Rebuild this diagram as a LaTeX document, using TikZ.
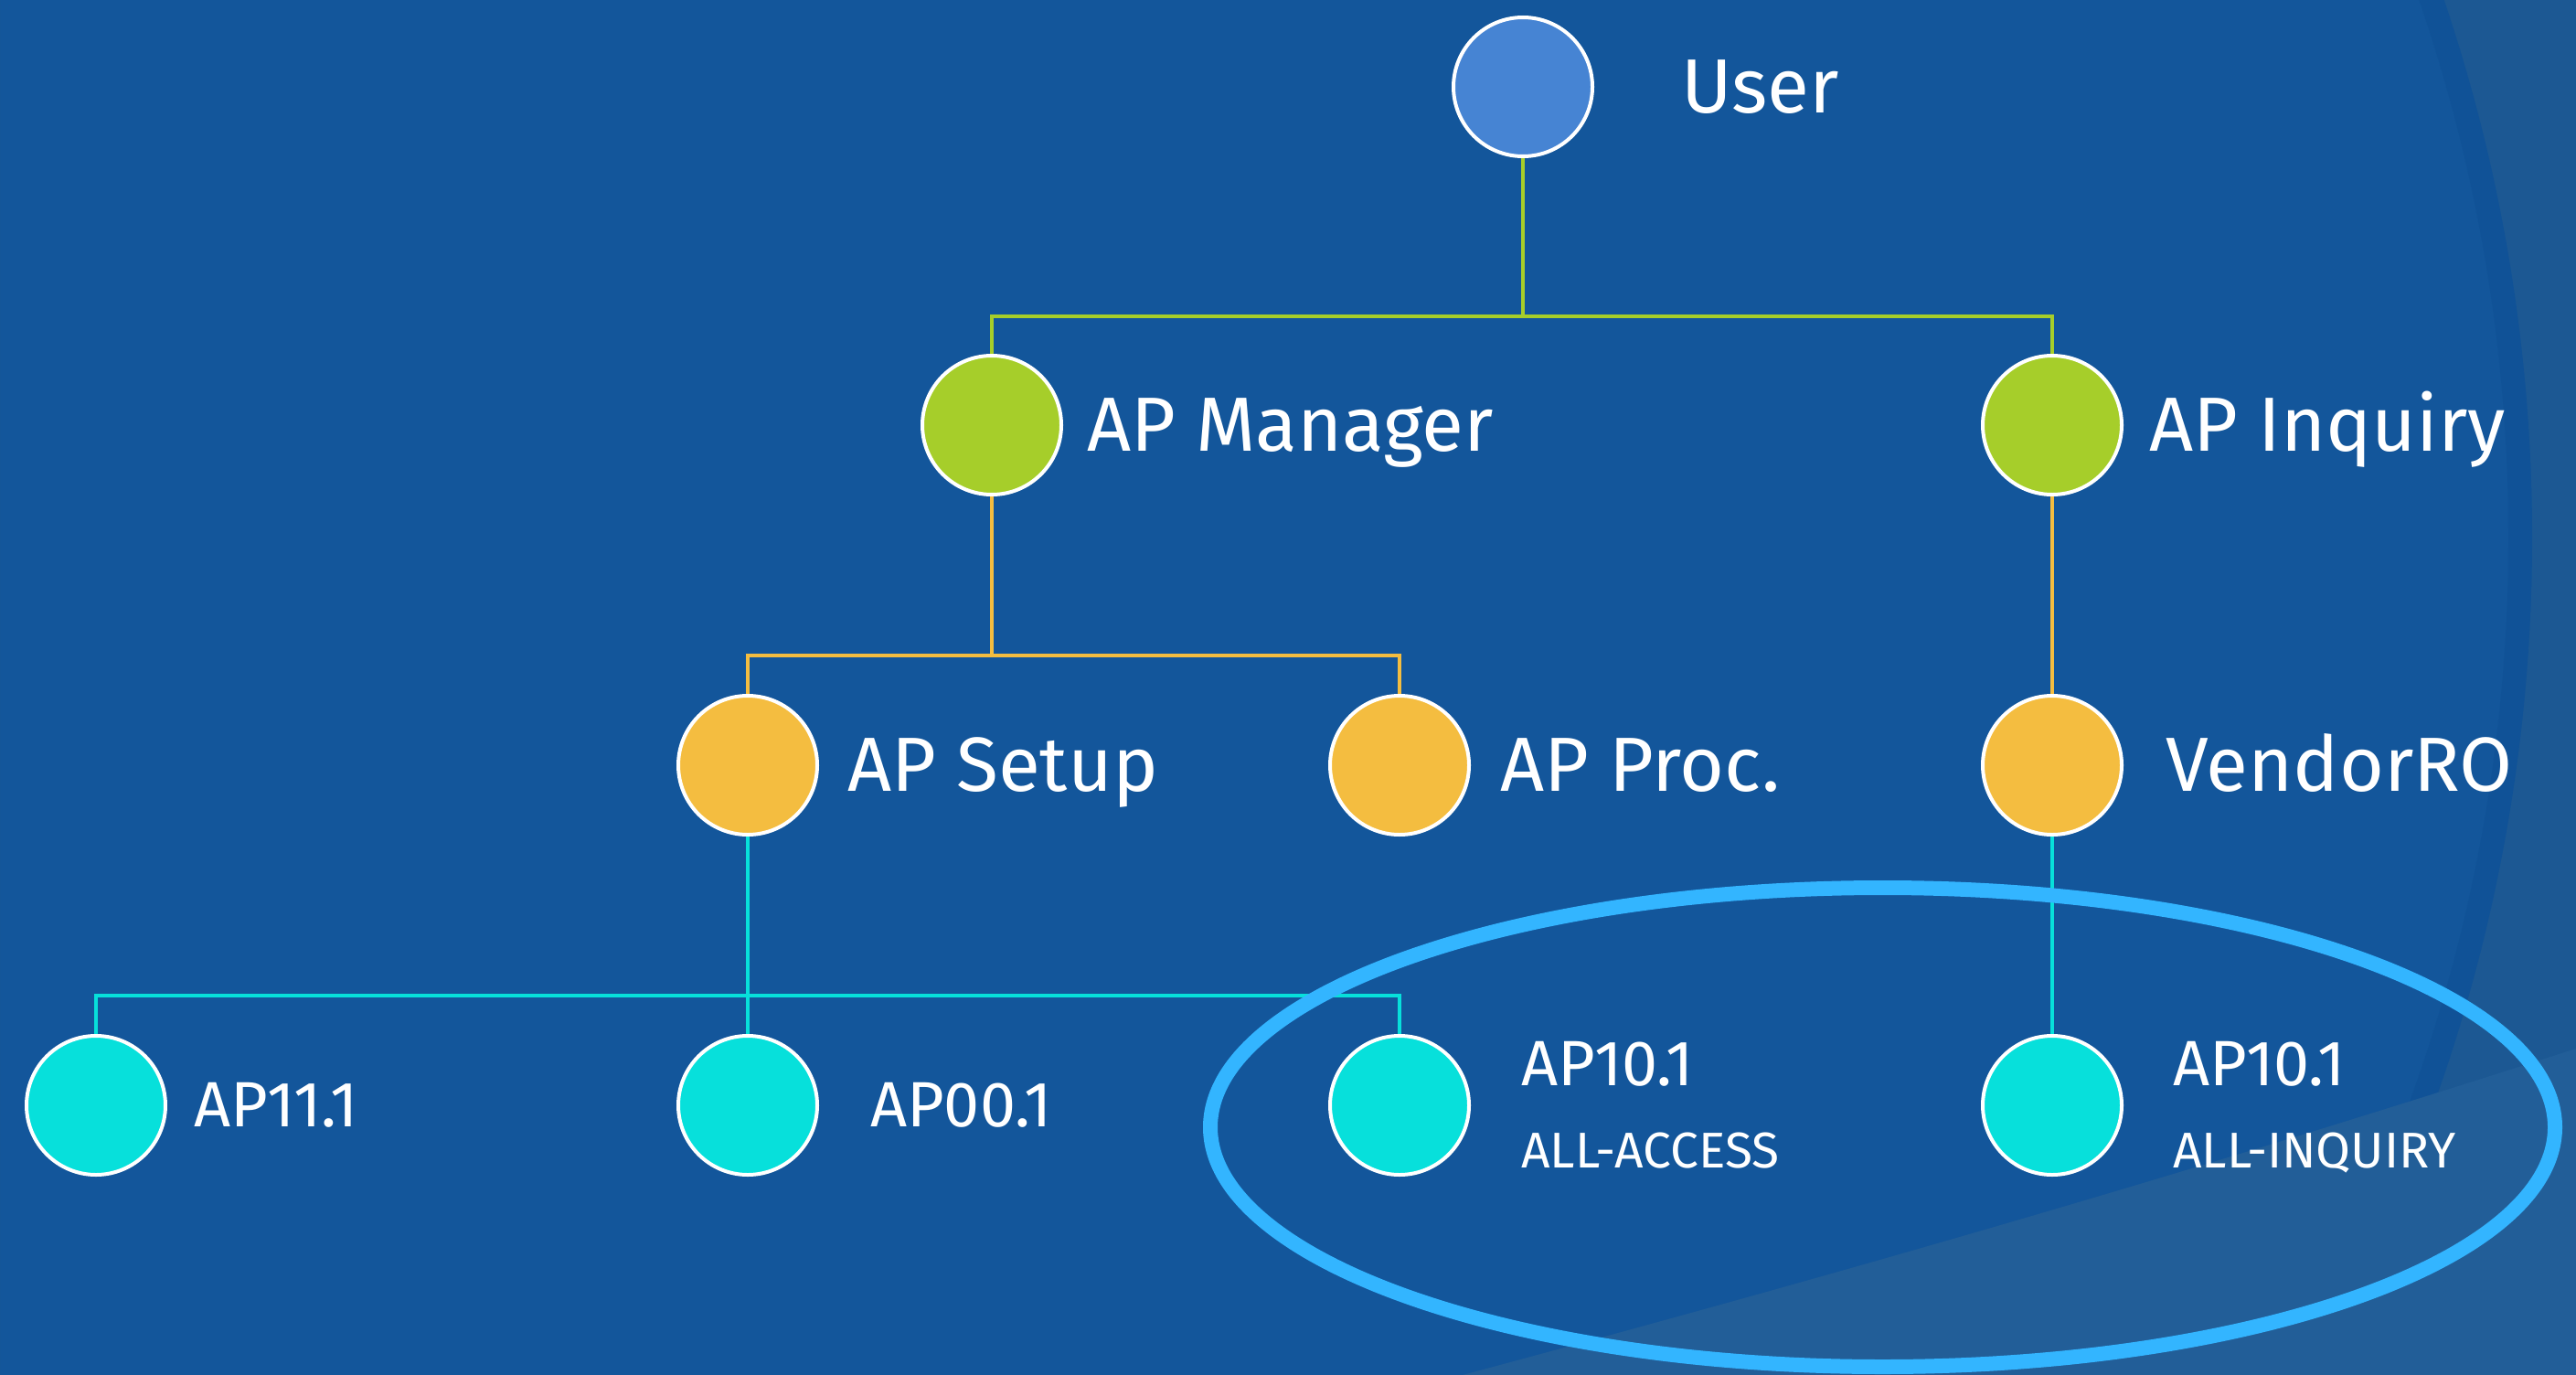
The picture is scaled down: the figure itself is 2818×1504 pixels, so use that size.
\documentclass[tikz,border=0pt]{standalone}
\usepackage{fontspec}
\setmainfont{Fira Sans}
\definecolor{bgmain}{RGB}{19,86,155}
\definecolor{bgouter}{RGB}{28,88,147}
\definecolor{bgband}{RGB}{34,94,152}
\definecolor{bgshade}{RGB}{14,80,148}
\definecolor{userblue}{RGB}{70,132,211}
\definecolor{lvlgreen}{RGB}{166,206,42}
\definecolor{lvlorange}{RGB}{244,189,64}
\definecolor{lvlcyan}{RGB}{7,224,219}
\definecolor{ringblue}{RGB}{51,181,255}
\pgfdeclarelayer{bg}
\pgfdeclarelayer{edges}
\pgfsetlayers{bg,edges,main}
\tikzset{
  role/.style={circle, draw=white, line width=4pt, minimum size=152pt, inner sep=0pt},
  toprole/.style={role, fill=userblue},
  grouprole/.style={role, fill=lvlgreen},
  subrole/.style={role, fill=lvlorange},
  leafrole/.style={role, fill=lvlcyan},
  biglabel/.style={anchor=base west, text=white, inner sep=0pt, font=\fontsize{84}{96}\selectfont},
  smalllabel/.style={anchor=base west, text=white, inner sep=0pt, font=\fontsize{70}{80}\selectfont},
  tinylabel/.style={anchor=base west, text=white, inner sep=0pt, font=\fontsize{55}{64}\selectfont},
  link/.style={line width=4.5pt},
  greenlink/.style={link, draw=lvlgreen},
  orangelink/.style={link, draw=lvlorange},
  cyanlink/.style={link, draw=lvlcyan},
}
\begin{document}
\begin{tikzpicture}[x=1pt, y=-1pt]
\useasboundingbox (0,0) rectangle (2818,1504);

% backdrop: plain field, large circle with lighter outside, and a lower band
\begin{pgfonlayer}{bg}
  \fill[bgmain] (0,0) rectangle (2818,1504);
  \begin{scope}
    \clip (0,0) rectangle (2818,1504);
    \fill[bgouter, even odd rule] (0,0) rectangle (2818,1504) (937,588) circle[radius=1833];
    \draw[bgshade, line width=26pt, opacity=0.5] (937,588) circle[radius=1820];
    \fill[bgband] (1600,1504) .. controls (2100,1370) and (2450,1265) .. (2818,1147) -- (2818,1504) -- cycle;
  \end{scope}
\end{pgfonlayer}

% roles
\node[toprole]   (user)     at (1666,95)  {};
\node[grouprole] (apmgr)    at (1085,465) {};
\node[grouprole] (apinq)    at (2245,465) {};
\node[subrole]   (apsetup)  at (818,837)  {};
\node[subrole]   (approc)   at (1531,837) {};
\node[subrole]   (vendorro) at (2245,837) {};
\node[leafrole]  (ap11)     at (105,1209) {};
\node[leafrole]  (ap00)     at (818,1209) {};
\node[leafrole]  (ap10a)    at (1531,1209) {};
\node[leafrole]  (ap10b)    at (2245,1209) {};

% labels
\node[biglabel] (tuser)     at (1839,123) {User};
\node[biglabel] (tapmgr)    at (1189,493) {AP Manager};
\node[biglabel] (tapinq)    at (2351,493) {AP Inquiry};
\node[biglabel] (tapsetup)  at (927,865)  {AP Setup};
\node[biglabel] (tapproc)   at (1641,865) {AP Proc.};
\node[biglabel] (tvendorro) at (2369,865) {VendorRO};
\node[smalllabel] (tap11)   at (212,1232) {AP11.1};
\node[smalllabel] (tap00)   at (952,1232) {AP00.1};
\node[smalllabel] (tap10a)  at (1664,1187) {AP10.1};
\node[tinylabel]  (tall10a) at (1664,1277) {ALL-ACCESS};
\node[smalllabel] (tap10b)  at (2377,1187) {AP10.1};
\node[tinylabel]  (tall10b) at (2377,1277) {ALL-INQUIRY};

% bus junctions
\coordinate (gbus) at (1666,346);
\coordinate (obus) at (1085,717);
\coordinate (cbus) at (818,1089);

% connectors
\begin{pgfonlayer}{edges}
  \draw[greenlink] (user.south) -- (gbus);
  \draw[greenlink] (apmgr.north) |- (gbus) -| (apinq.north);
  \draw[orangelink] (apmgr.south) -- (obus);
  \draw[orangelink] (apsetup.north) |- (obus) -| (approc.north);
  \draw[orangelink] (apinq.south) -- (vendorro.north);
  \draw[cyanlink] (apsetup.south) -- (ap00.north);
  \draw[cyanlink] (ap11.north) |- (cbus) -| (ap10a.north);
  \draw[cyanlink] (vendorro.south) -- (ap10b.north);
\end{pgfonlayer}

% highlight ring round the two AP10.1 roles
\draw[ringblue, line width=16pt] (2059.5,1233) ellipse[x radius=735.5, y radius=262];
\end{tikzpicture}
\end{document}
